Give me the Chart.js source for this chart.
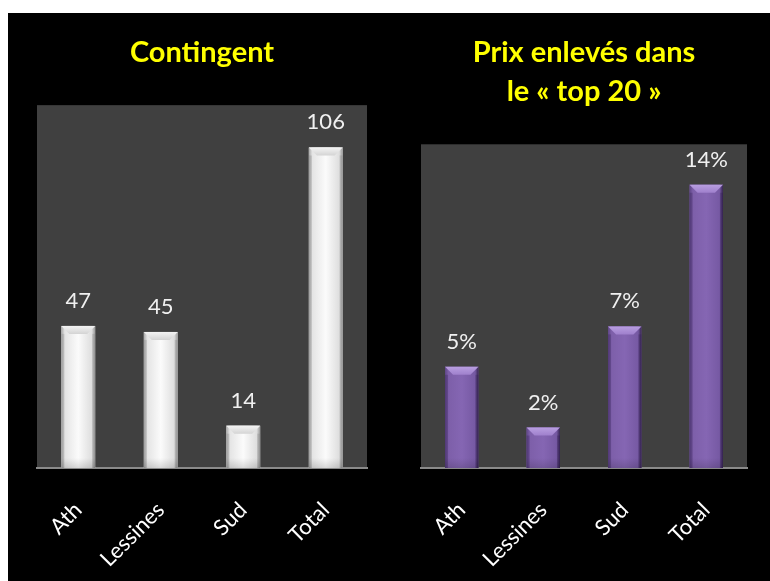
<!DOCTYPE html>
<html><head><meta charset="utf-8">
<script src="https://cdn.jsdelivr.net/npm/chart.js@4/dist/chart.umd.min.js"></script>
<style>
html,body{margin:0;padding:0;background:#fff;width:770px;height:581px;overflow:hidden;}
#bg{position:absolute;left:8px;top:13px;width:762px;height:568px;background:#000;}
#c1{position:absolute;left:17px;top:13px;}
#c2{position:absolute;left:401px;top:13px;}
</style></head><body>
<div id="bg"></div>
<canvas id="c1" width="370" height="568"></canvas>
<canvas id="c2" width="366" height="568"></canvas>
<script>
const categories = ['Ath', 'Lessines', 'Sud', 'Total'];
const contingentValues = [47, 45, 14, 106];
const prixValues = [5, 2, 7, 14];
const contingentTitle = 'Contingent';
const prixTitle = ['Prix enlevés dans', 'le « top 20 »'];
const contingentMax = 120;
const prixMax = 16;

const palettes = {
  white: { stops: ['#a8a8a8', '#e4e4e4', '#fbfbfb', '#dedede', '#969696'], bevel: '#d4d4d4', bevelHi: '#f4f4f4', side: 'rgba(120,120,120,0.25)' },
  purple: { stops: ['#5e4586', '#7d5fa9', '#8566b3', '#7659a3', '#35244f'], bevel: '#9f80cc', bevelHi: '#b89ee0', side: 'rgba(40,20,70,0.25)' }
};

const plotBg = {
  id: 'plotBg',
  beforeDraw(chart) {
    const { ctx, chartArea: a } = chart;
    ctx.save();
    ctx.fillStyle = '#404040';
    ctx.fillRect(a.left, a.top, a.right - a.left, a.bottom - a.top);
    ctx.restore();
  }
};

const barDecor = {
  id: 'barDecor',
  afterDatasetsDraw(chart, args, opts) {
    const { ctx } = chart;
    const meta = chart.getDatasetMeta(0);
    const pal = palettes[opts.palette];
    const data = chart.data.datasets[0].data;
    ctx.save();
    meta.data.forEach((el, i) => {
      const p = el.getProps(['x', 'y', 'base', 'width'], true);
      const l = p.x - p.width / 2, r = p.x + p.width / 2, w = p.width;
      const h = p.base - p.y;
      const g = ctx.createLinearGradient(l, 0, r, 0);
      g.addColorStop(0, pal.stops[0]);
      g.addColorStop(0.1, pal.stops[1]);
      g.addColorStop(0.5, pal.stops[2]);
      g.addColorStop(0.9, pal.stops[3]);
      g.addColorStop(1, pal.stops[4]);
      ctx.fillStyle = g;
      ctx.fillRect(l, p.y, w, h);
      const bv = Math.min(8, h / 2);
      // side bevels
      ctx.fillStyle = pal.side;
      ctx.fillRect(l, p.y + bv, 3, h - bv);
      ctx.fillRect(r - 3, p.y + bv, 3, h - bv);
      // top bevel
      const gb = ctx.createLinearGradient(0, p.y, 0, p.y + bv);
      gb.addColorStop(0, pal.bevelHi);
      gb.addColorStop(1, pal.bevel);
      ctx.fillStyle = gb;
      ctx.beginPath();
      ctx.moveTo(l, p.y);
      ctx.lineTo(r, p.y);
      ctx.lineTo(r - bv, p.y + bv);
      ctx.lineTo(l + bv, p.y + bv);
      ctx.closePath();
      ctx.fill();
      const gs = ctx.createLinearGradient(0, p.base - 10, 0, p.base);
      gs.addColorStop(0, 'rgba(0,0,0,0)');
      gs.addColorStop(1, 'rgba(0,0,0,0.14)');
      ctx.fillStyle = gs;
      ctx.fillRect(l, Math.max(p.y + bv, p.base - 10), w, Math.min(10, h - bv));
      // value label
      ctx.fillStyle = '#f0f0f0';
      ctx.font = '22px Lato';
      ctx.textAlign = 'center';
      ctx.textBaseline = 'alphabetic';
      ctx.fillText(data[i] + opts.suffix, p.x, p.y - 18);
    });
    ctx.restore();
  }
};

function makeChart(id, values, title, max, palette, suffix, baseColor) {
  return new Chart(document.getElementById(id), {
    type: 'bar',
    data: {
      labels: categories,
      datasets: [{ data: values, backgroundColor: baseColor, borderWidth: 0, barPercentage: 0.41, categoryPercentage: 1 }]
    },
    options: {
      responsive: false,
      animation: false,
      layout: { padding: { left: 20, right: 20, top: 0, bottom: 0 } },
      plugins: {
        legend: { display: false },
        tooltip: { enabled: false },
        title: {
          display: true, text: title, color: '#ffff00',
          font: { family: 'Lato', size: 29, weight: 'bold', lineHeight: 1.35 },
          padding: { top: 20, bottom: 33 }
        },
        barDecor: { palette: palette, suffix: suffix }
      },
      scales: {
        x: {
          grid: { display: false },
          border: { display: true, color: '#8a8a8a', width: 2 },
          ticks: { color: '#ffffff', font: { family: 'Lato', size: 22 }, maxRotation: 45, minRotation: 45, padding: 21 },
          afterFit: s => { s.height = 113; }
        },
        y: { display: false, min: 0, max: max }
      }
    },
    plugins: [plotBg, barDecor]
  });
}

Promise.all([document.fonts.load('22px Lato'), document.fonts.load('bold 29px Lato')]).catch(() => {}).then(() => {
  makeChart('c1', contingentValues, contingentTitle, contingentMax, 'white', '', '#f0f0f0');
  makeChart('c2', prixValues, prixTitle, prixMax, 'purple', '%', '#8064a2');
});
</script>
</body></html>
